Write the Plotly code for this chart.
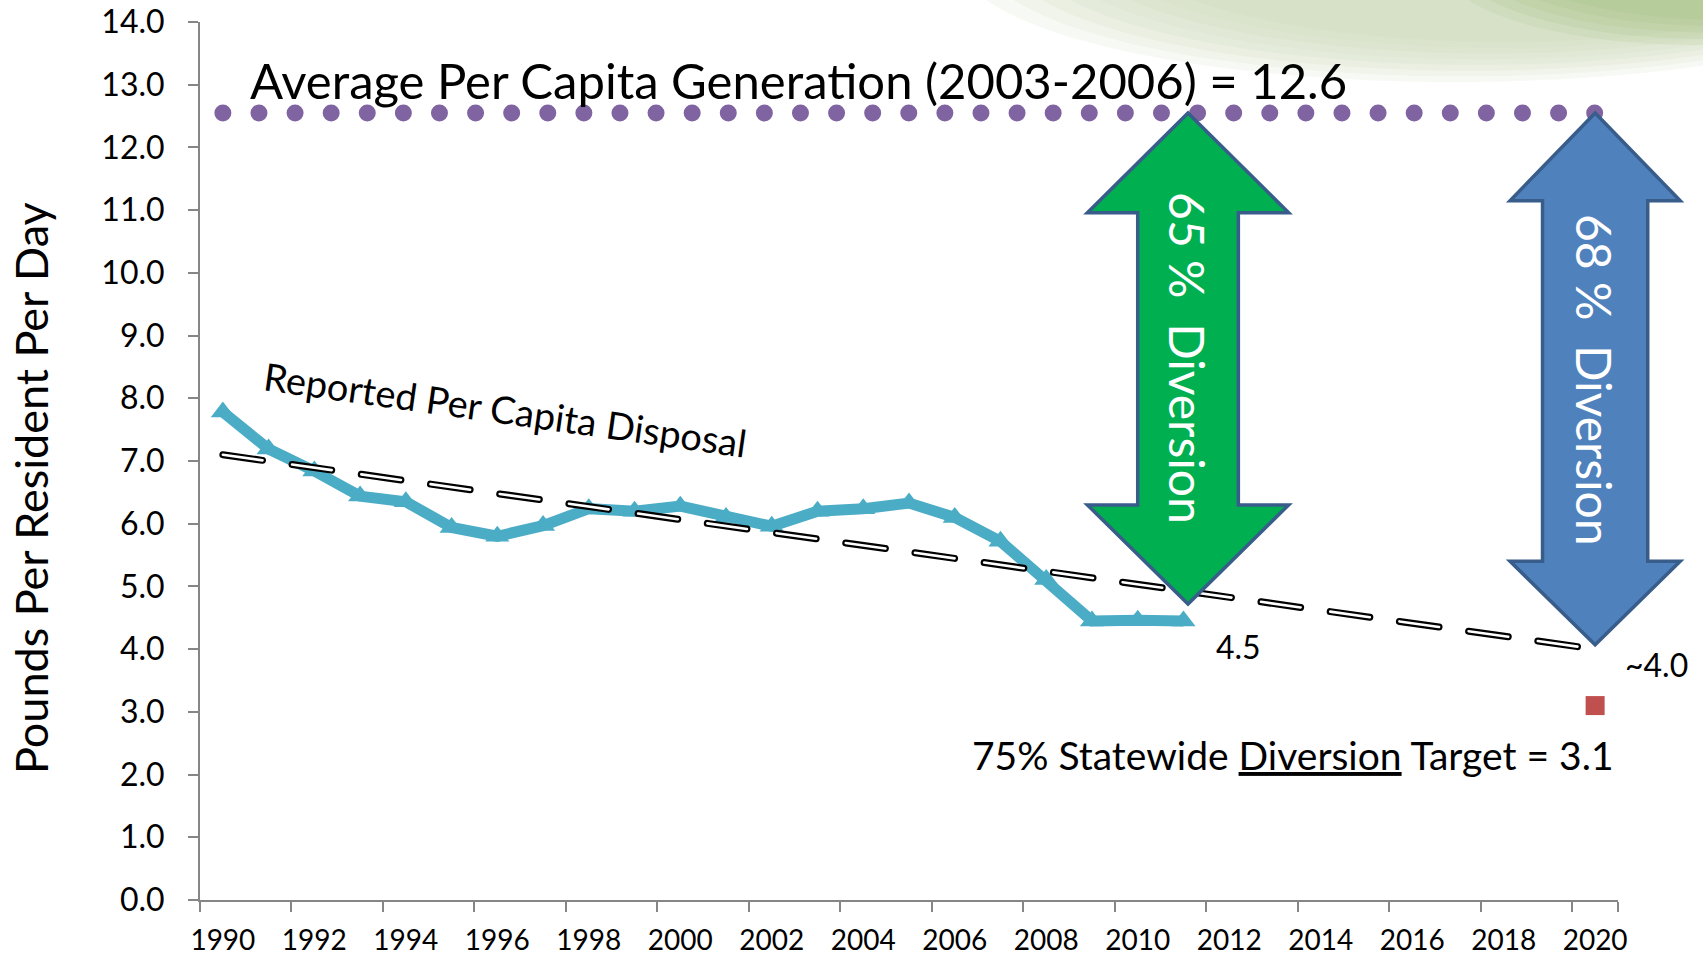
import plotly.graph_objects as go

# reported per capita disposal (lbs / resident / day)
years = list(range(1990, 2012))
disposal = [7.78, 7.19, 6.84, 6.44, 6.35, 5.94, 5.80, 5.97, 6.24, 6.20, 6.28,
            6.10, 5.96, 6.20, 6.24, 6.33, 6.10, 5.72, 5.11, 4.45, 4.46, 4.45]

trend_years = [1990, 2020]
trend_values = [7.1, 4.0]

avg_years = [1990, 2020]
avg_values = [12.55, 12.55]

target_years = [2020]
target_values = [3.1]

tick_years = list(range(1990, 2021, 2))

X0, X1 = 1989.5, 2020.5
Y0, Y1 = 0, 14
W, H = 1703, 956
ML, MR, MT, MB = 200, 85, 22, 56
FONT = "Lato, Carlito, Calibri, sans-serif"


def px(x):
    return (x - X0) / (X1 - X0)


def py(y):
    return (y - Y0) / (Y1 - Y0)


def pix_x(p):
    return (p - ML) / (W - ML - MR)


def pix_y(p):
    return (H - MB - p) / (H - MT - MB)


def arrow_path(cx, shaft, head, top, neck_top, neck_bot, tip):
    pts = [(cx, top), (cx + head, neck_top), (cx + shaft, neck_top),
           (cx + shaft, neck_bot), (cx + head, neck_bot), (cx, tip),
           (cx - head, neck_bot), (cx - shaft, neck_bot), (cx - shaft, neck_top),
           (cx - head, neck_top)]
    s = "M " + " L ".join("%.5f,%.5f" % (px(a), py(b)) for a, b in pts)
    return s + " Z"


fig = go.Figure()

# average generation, round purple dots (caps set round via css below)
fig.add_trace(go.Scatter(x=avg_years, y=avg_values, mode="lines", uid="avgdots",
                         line=dict(color="#8064A2", width=17, dash="0px,36.1px"),
                         hoverinfo="skip"))

fig.add_trace(go.Scatter(x=years, y=disposal, mode="lines+markers",
                         line=dict(color="#4BACC6", width=11),
                         marker=dict(symbol="triangle-up", size=21, color="#4BACC6")))

# trend line: black outline + white core, round caps via css
fig.add_trace(go.Scatter(x=trend_years, y=trend_values, mode="lines", uid="trendout",
                         line=dict(color="black", width=7, dash="40px,29.9px"),
                         hoverinfo="skip"))
fig.add_trace(go.Scatter(x=trend_years, y=trend_values, mode="lines", uid="trendin",
                         line=dict(color="white", width=2.6, dash="40px,29.9px"),
                         hoverinfo="skip"))

fig.add_trace(go.Scatter(x=target_years, y=target_values, mode="markers",
                         marker=dict(symbol="square", size=19, color="#C0504D")))

shapes = []
# soft blurred leaf in the top right corner
for i in range(8):
    k = i / 7.0
    shapes.append(dict(type="circle", xref="paper", yref="paper",
                       x0=pix_x(960 + 160 * k), x1=pix_x(1950 - 60 * k),
                       y0=pix_y(82 - 40 * k), y1=pix_y(-160),
                       fillcolor="rgba(200,212,178,0.15)", line=dict(width=0),
                       layer="below"))
for i in range(5):
    k = i / 4.0
    shapes.append(dict(type="circle", xref="paper", yref="paper",
                       x0=pix_x(1440 + 60 * k), x1=pix_x(1950),
                       y0=pix_y(45 - 25 * k), y1=pix_y(-120),
                       fillcolor="rgba(150,180,100,0.11)", line=dict(width=0),
                       layer="below"))

shapes.append(dict(type="path", xref="paper", yref="paper",
                   path=arrow_path(2011.1, 1.1, 2.2, 12.55, 10.96, 6.3, 4.72),
                   fillcolor="#00B050", line=dict(color="#385D8A", width=3.5)))
shapes.append(dict(type="path", xref="paper", yref="paper",
                   path=arrow_path(2020.0, 1.15, 1.86, 12.55, 11.15, 5.4, 4.07),
                   fillcolor="#4F81BD", line=dict(color="#385D8A", width=3.5)))

annotations = [
    dict(x=1990.54, y=13.08, xanchor="left", yanchor="middle",
         text="Average Per Capita Generation (2003-2006) = 12.6",
         font=dict(size=49, color="black")),
    dict(x=1996.17, y=7.83, text="Reported Per Capita Disposal", textangle=8,
         font=dict(size=38, color="black")),
    dict(x=2012.2, y=4.05, text="4.5", font=dict(size=32, color="black")),
    dict(x=px(2021.35), xref="paper", xanchor="center", y=3.75, text="~4.0",
         font=dict(size=32, color="black")),
    dict(x=2013.4, y=2.32, text="75% Statewide <u>Diversion</u> Target = 3.1",
         font=dict(size=39, color="black")),
    dict(x=2011.1, y=8.64, text="65 %\u00a0 Diversion", textangle=90,
         font=dict(size=48, color="white")),
    dict(x=2020.0, y=8.29, text="68 %\u00a0 Diversion", textangle=90,
         font=dict(size=48, color="white")),
]
for a in annotations:
    a.setdefault("xref", "x")
    a.update(yref="y", showarrow=False)

# y axis title, sits a bit below the axis middle like the original
annotations.append(dict(xref="paper", yref="paper", x=pix_x(31), y=pix_y(488),
                        xanchor="center", yanchor="middle", textangle=-90,
                        showarrow=False, text="Pounds Per Resident Per Day",
                        font=dict(size=45, color="black")))

fig.update_layout(
    width=W, height=H,
    margin=dict(l=ML, r=MR, t=MT, b=MB, autoexpand=False),
    paper_bgcolor="white", plot_bgcolor="white",
    font=dict(family=FONT, color="black"),
    showlegend=False, hovermode=False,
    shapes=shapes, annotations=annotations,
    xaxis=dict(range=[X0, X1], tickvals=tick_years, ticktext=[str(t) for t in tick_years],
               ticks="", showgrid=False, zeroline=False,
               showline=True, linecolor="#868686", linewidth=2,
               tickfont=dict(size=28, color="black"), ticklabelstandoff=14,
               minor=dict(tickvals=[t - 0.5 for t in tick_years] + [X1],
                          ticks="outside", ticklen=10, tickcolor="#868686", tickwidth=2),
               automargin=False),
    yaxis=dict(range=[Y0, Y1], dtick=1, tickformat=".1f", ticks="outside", ticklen=10,
               tickcolor="#868686", tickwidth=2, showgrid=False, zeroline=False,
               showline=True, linecolor="#868686", linewidth=2,
               tickfont=dict(size=32, color="black"), ticklabelstandoff=17,
               automargin=False),
)

css = ("var s=document.createElement('style');"
       "s.innerHTML='html,body{margin:0;padding:0;overflow:hidden}"
       " .traceavgdots .js-line,.tracetrendout .js-line,.tracetrendin .js-line"
       "{stroke-linecap:round}';"
       "document.head.appendChild(s);")
fig.write_html("out.html", post_script=css, config={"displayModeBar": False})
